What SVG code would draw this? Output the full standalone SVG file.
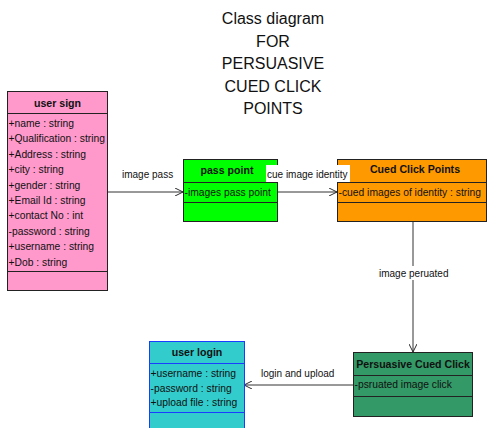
<svg xmlns="http://www.w3.org/2000/svg" width="488" height="428" viewBox="0 0 488 428">
  <style>
    text { font-family: "Liberation Sans", Arial, sans-serif; fill: #111; }
    .title { font-size: 16px; text-anchor: middle; }
    .head { font-size: 10.6px; font-weight: bold; text-anchor: middle; }
    .attr { font-size: 10.3px; }
    .lbl { font-size: 10px; }
    .box { stroke: #222; stroke-width: 1; }
    .sep { stroke: #222; stroke-width: 1; }
    .conn { stroke: #333; stroke-width: 1; fill: none; }
  </style>
  <defs>
    <marker id="open" viewBox="0 0 10 10" refX="10" refY="5" markerWidth="8" markerHeight="8" orient="auto" markerUnits="userSpaceOnUse">
      <path d="M0,0 L10,5 L0,10" fill="none" stroke="#222" stroke-width="1.2"/>
    </marker>
  </defs>

  <rect width="488" height="428" fill="#fff"/>

  <!-- title -->
  <g id="title">
    <text class="title" x="273" y="24">Class diagram</text>
    <text class="title" x="273" y="47">FOR</text>
    <text class="title" x="273" y="69">PERSUASIVE</text>
    <text class="title" x="273" y="92">CUED CLICK</text>
    <text class="title" x="273" y="114">POINTS</text>
  </g>

  <!-- connectors -->
  <g id="connectors">
    <line class="conn" x1="107" y1="192" x2="183" y2="192" marker-end="url(#open)"/>
    <text class="lbl" x="122" y="178">image pass</text>

    <line class="conn" x1="277" y1="192" x2="337" y2="192" marker-end="url(#open)"/>

    <line class="conn" x1="413" y1="222" x2="413" y2="352" marker-end="url(#open)"/>
    <rect x="377" y="266" width="77" height="14" fill="#fff"/>
    <text class="lbl" x="379" y="277">image peruated</text>

    <line class="conn" x1="353" y1="385" x2="244" y2="385" marker-end="url(#open)"/>
    <text class="lbl" x="261" y="377">login and upload</text>
  </g>

  <!-- user sign -->
  <g id="user-sign">
    <rect class="box" x="7.5" y="91.5" width="100" height="199" fill="#ff99cc"/>
    <line class="sep" x1="7.5" y1="113.5" x2="107.5" y2="113.5"/>
    <line class="sep" x1="7.5" y1="271.5" x2="107.5" y2="271.5"/>
    <text class="head" x="57.5" y="107">user sign</text>
    <text class="attr" x="8.5" y="127">+name : string</text>
    <text class="attr" x="8.5" y="142.4">+Qualification  : string</text>
    <text class="attr" x="8.5" y="157.8">+Address : string</text>
    <text class="attr" x="8.5" y="173.2">+city : string</text>
    <text class="attr" x="8.5" y="188.6">+gender : string</text>
    <text class="attr" x="8.5" y="204">+Email Id  : string</text>
    <text class="attr" x="8.5" y="219.4">+contact No : int</text>
    <text class="attr" x="8.5" y="234.8">-password : string</text>
    <text class="attr" x="8.5" y="250.2">+username : string</text>
    <text class="attr" x="8.5" y="265.6">+Dob : string</text>
  </g>

  <!-- pass point -->
  <g id="pass-point">
    <rect class="box" x="183.5" y="159.5" width="94" height="62" fill="#00ff00"/>
    <line class="sep" x1="183.5" y1="182.5" x2="277.5" y2="182.5"/>
    <line class="sep" x1="183.5" y1="202.5" x2="277.5" y2="202.5"/>
    <text class="head" x="227" y="174">pass point</text>
    <text class="attr" x="184.5" y="196">-images pass point</text>
  </g>

  <!-- Cued Click Points -->
  <g id="cued-click-points">
    <rect class="box" x="337.5" y="159.5" width="149" height="62" fill="#ff9900"/>
    <line class="sep" x1="337.5" y1="182.5" x2="486.5" y2="182.5"/>
    <line class="sep" x1="337.5" y1="202.5" x2="486.5" y2="202.5"/>
    <text class="head" x="415" y="173">Cued Click Points</text>
    <text class="attr" x="338.5" y="196">-cued images of identity : string</text>
  </g>

  <!-- label drawn above boxes -->
  <g id="cue-label">
    <rect x="266" y="165" width="84" height="17" fill="#fff"/>
    <text class="lbl" x="267" y="178">cue image identity</text>
  </g>

  <!-- Persuasive Cued Click -->
  <g id="persuasive-cued-click">
    <rect class="box" x="353.5" y="352.5" width="119" height="64" fill="#339966"/>
    <line class="sep" x1="353.5" y1="375.5" x2="472.5" y2="375.5"/>
    <line class="sep" x1="353.5" y1="396.5" x2="472.5" y2="396.5"/>
    <text class="head" x="413" y="368">Persuasive Cued Click</text>
    <text class="attr" x="354.5" y="388">-psruated image click</text>
  </g>

  <!-- user login -->
  <g id="user-login">
    <rect x="149.5" y="341.5" width="95" height="92" fill="#33cccc" stroke="#1a3cff" stroke-width="1"/>
    <line x1="149.5" y1="363.5" x2="244.5" y2="363.5" stroke="#1a3cff"/>
    <line x1="149.5" y1="412.5" x2="244.5" y2="412.5" stroke="#1a3cff"/>
    <text class="head" x="197" y="356">user login</text>
    <text class="attr" x="150.5" y="377">+username : string</text>
    <text class="attr" x="150.5" y="391.5">-password : string</text>
    <text class="attr" x="150.5" y="406">+upload file  : string</text>
  </g>
</svg>
